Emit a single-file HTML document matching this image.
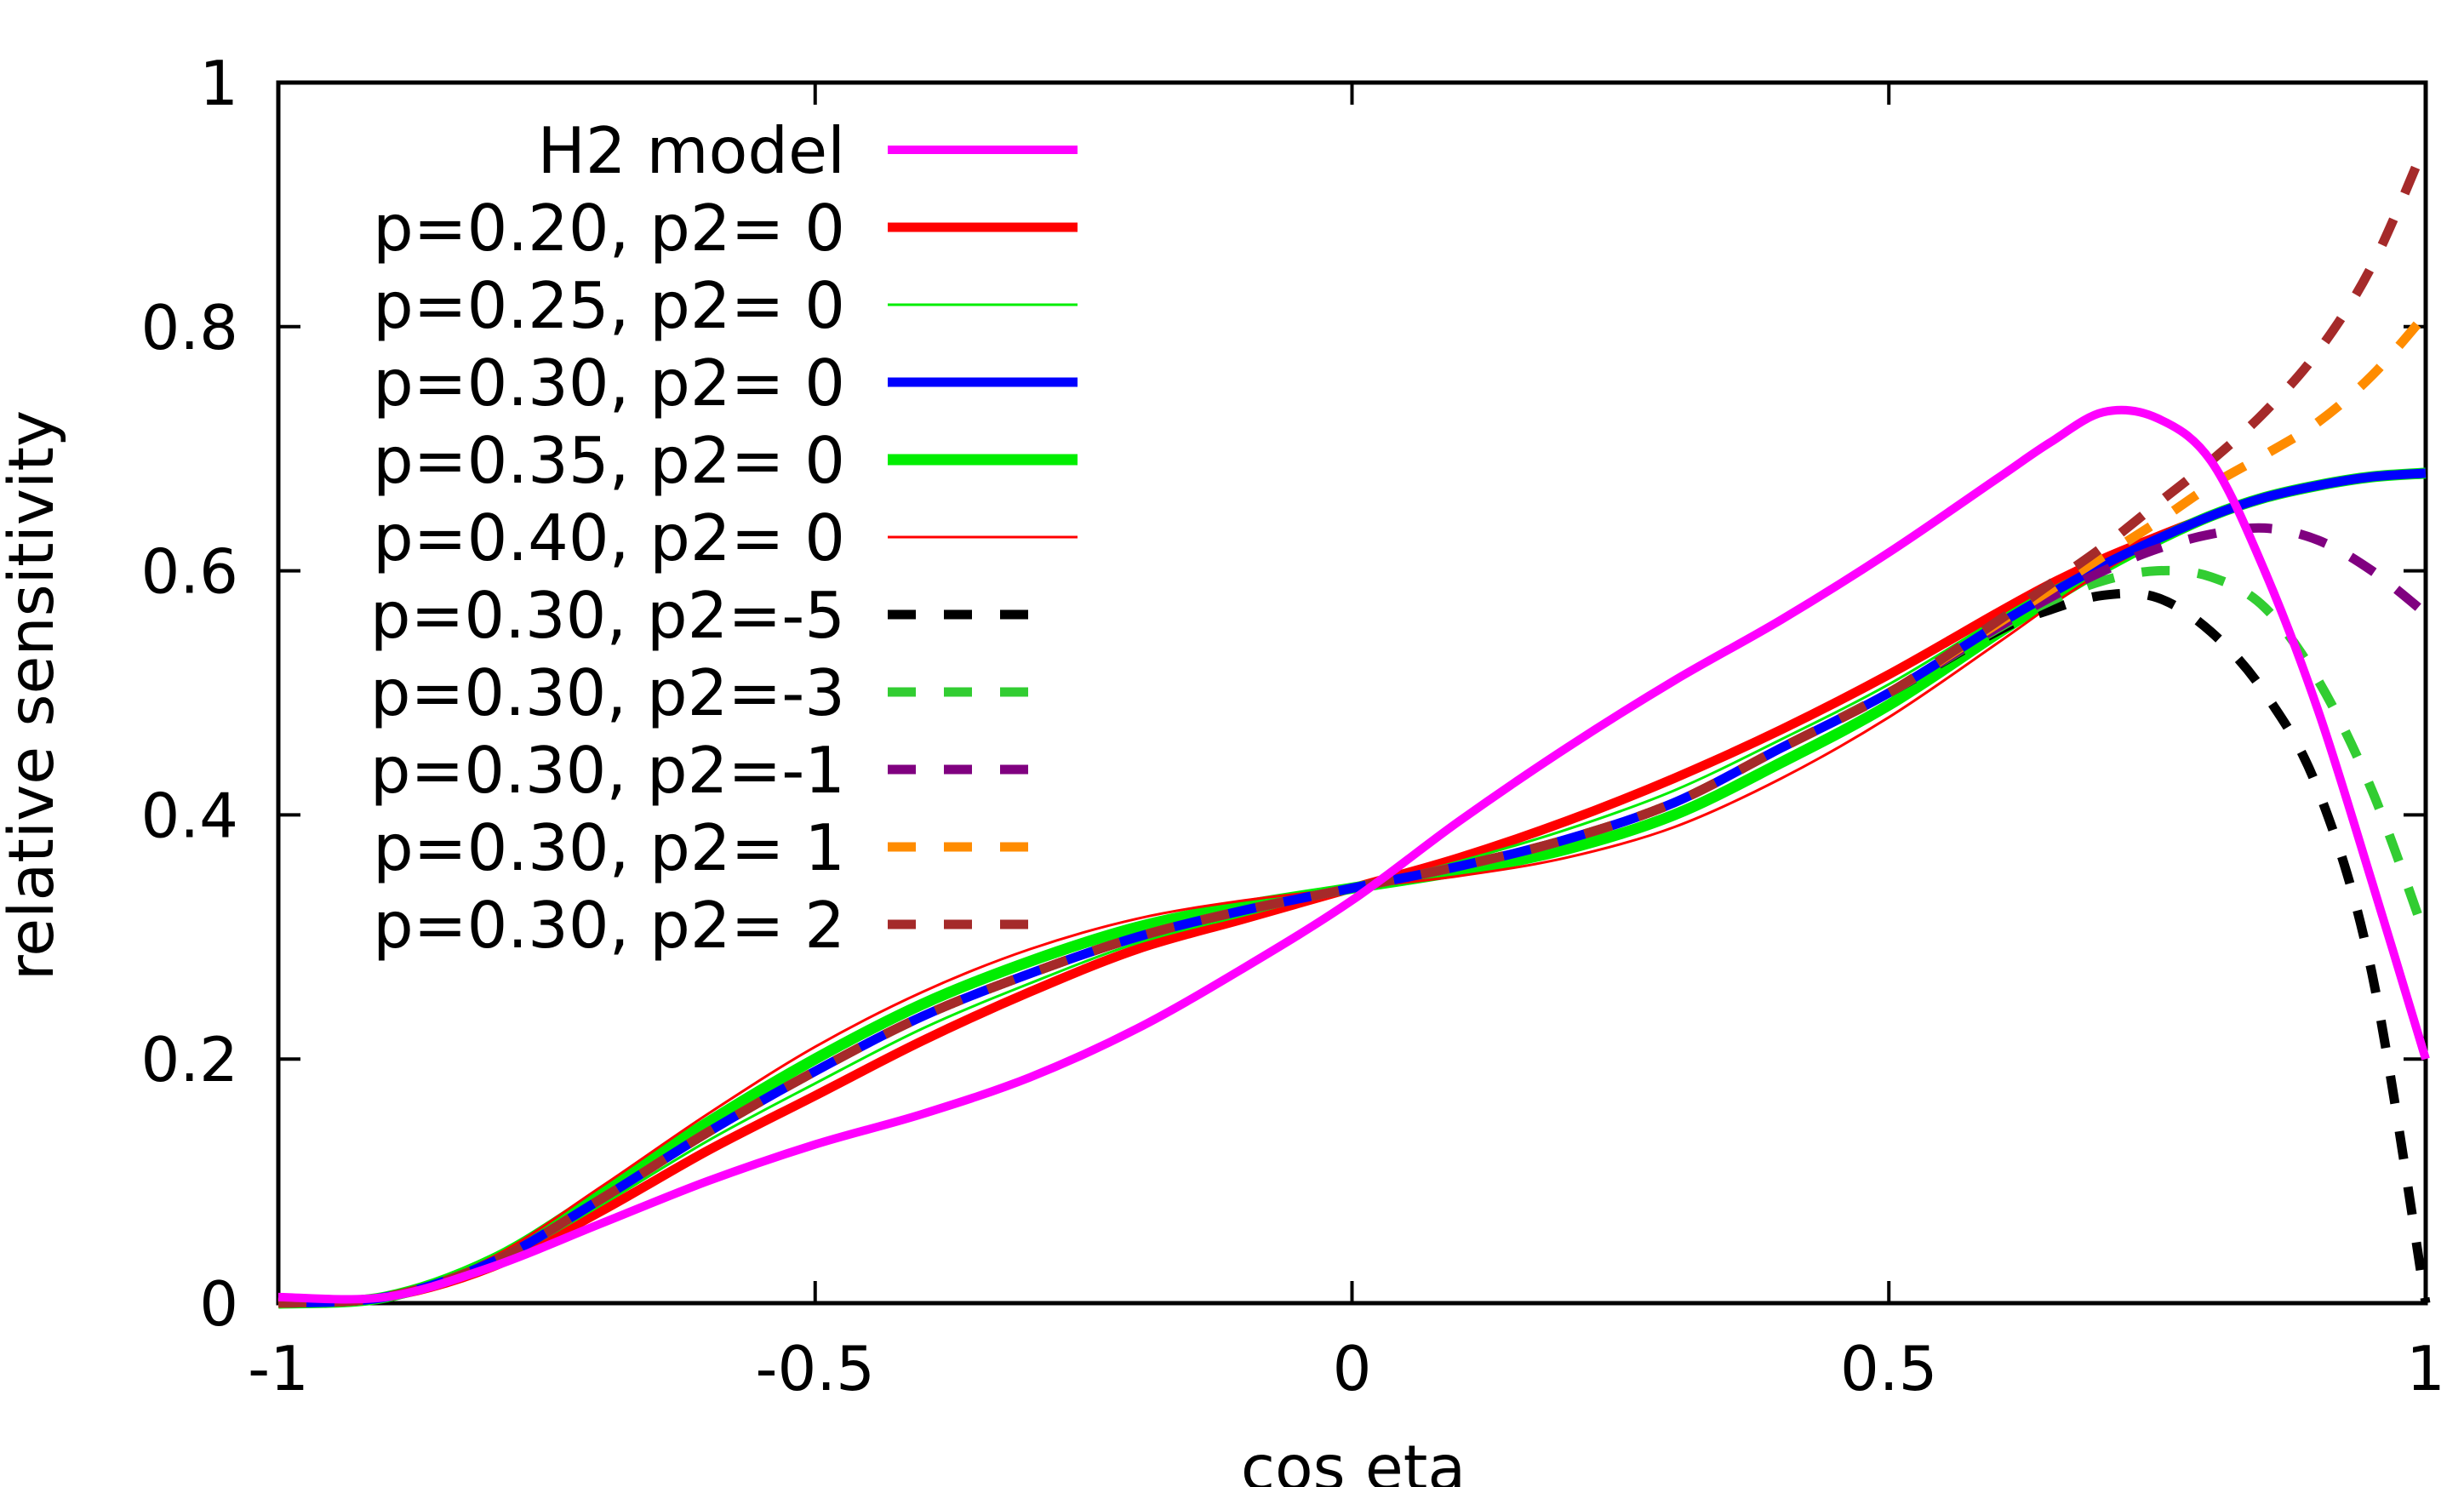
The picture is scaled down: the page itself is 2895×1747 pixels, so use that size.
<!DOCTYPE html>
<html><head><meta charset="utf-8"><style>
html,body{margin:0;padding:0;background:#fff;}
svg{display:block;font-family:"DejaVu Sans","Liberation Sans",sans-serif;}
</style></head><body>
<svg id="chart" width="2895" height="1747" viewBox="0 0 2895 1747" xmlns="http://www.w3.org/2000/svg">
<g id="grid"></g>
<g id="series"></g>
<g id="legend"></g>
<text x="0" y="0" transform="translate(62,817) rotate(-90)" text-anchor="middle" font-size="73">relative sensitivity</text>
<text x="1590" y="1750" text-anchor="middle" font-size="73">cos eta</text>
</svg>
<script>
const xTicks=[-1,-0.5,0,0.5,1];
const xTickLabels=["-1","-0.5","0","0.5","1"];
const yTicks=[0,0.2,0.4,0.6,0.8,1];
const yTickLabels=["0","0.2","0.4","0.6","0.8","1"];
const xs=[-1,-0.9,-0.8,-0.7,-0.6,-0.5,-0.4,-0.3,-0.2,-0.1,0,0.1,0.2,0.3,0.4,0.5,0.6,0.65,0.7,0.75,0.8,0.85,0.9,0.95,1];
const h2=[0.005,0.005,0.03,0.065,0.1,0.13,0.155,0.185,0.225,0.275,0.33,0.395,0.455,0.51,0.56,0.615,0.675,0.705,0.73,0.725,0.69,0.6,0.485,0.345,0.2];
const p20=[0,0.005,0.03,0.075,0.125,0.17,0.215,0.255,0.29,0.315,0.34,0.365,0.395,0.43,0.47,0.515,0.565,0.589,0.61,0.628,0.645,0.66,0.67,0.677,0.68];
const p25=[0,0.005,0.032,0.08,0.133,0.18,0.225,0.262,0.295,0.318,0.34,0.362,0.388,0.42,0.462,0.507,0.56,0.585,0.607,0.627,0.645,0.66,0.67,0.677,0.68];
const p30=[0,0.005,0.034,0.085,0.14,0.19,0.235,0.27,0.3,0.322,0.34,0.358,0.38,0.41,0.455,0.5,0.555,0.581,0.605,0.626,0.645,0.66,0.67,0.677,0.68];
const p35=[0,0.005,0.036,0.09,0.148,0.2,0.245,0.28,0.308,0.326,0.34,0.354,0.372,0.4,0.443,0.49,0.548,0.576,0.602,0.625,0.645,0.66,0.67,0.677,0.68];
const p40=[0,0.005,0.038,0.095,0.155,0.21,0.255,0.29,0.315,0.33,0.34,0.35,0.365,0.39,0.43,0.48,0.54,0.571,0.6,0.624,0.645,0.66,0.67,0.677,0.68];
const m5=[0,0.005,0.034,0.085,0.14,0.19,0.235,0.27,0.3,0.322,0.34,0.358,0.38,0.41,0.455,0.5,0.55,0.568,0.58,0.578,0.55,0.5,0.42,0.27,0.0];
const m3=[0,0.005,0.034,0.085,0.14,0.19,0.235,0.27,0.3,0.322,0.34,0.358,0.38,0.41,0.455,0.5,0.552,0.575,0.592,0.6,0.595,0.57,0.51,0.42,0.3];
const m1=[0,0.005,0.034,0.085,0.14,0.19,0.235,0.27,0.3,0.322,0.34,0.358,0.38,0.41,0.455,0.5,0.553,0.578,0.6,0.618,0.63,0.635,0.625,0.6,0.565];
const q1=[0,0.005,0.034,0.085,0.14,0.19,0.235,0.27,0.3,0.322,0.34,0.358,0.38,0.41,0.455,0.5,0.556,0.584,0.612,0.64,0.67,0.695,0.722,0.76,0.81];
const q2=[0,0.005,0.034,0.085,0.14,0.19,0.235,0.27,0.3,0.322,0.34,0.358,0.38,0.41,0.455,0.5,0.558,0.589,0.62,0.655,0.69,0.73,0.78,0.85,0.95];
const seriesLabels=["H2 model","p=0.20, p2= 0","p=0.25, p2= 0","p=0.30, p2= 0","p=0.35, p2= 0","p=0.40, p2= 0","p=0.30, p2=-5","p=0.30, p2=-3","p=0.30, p2=-1","p=0.30, p2= 1","p=0.30, p2= 2"];
const seriesData=[h2,p20,p25,p30,p35,p40,m5,m3,m1,q1,q2];
const colors=["#ff00ff","#ff0000","#00ee00","#0000ff","#00ee00","#ff0000","#000000","#32cd32","#800080","#ff8c00","#a52a2a"];
const widths=[10,11,3,11,13,3,11,11,11,11,11];
const dashed=[0,0,0,0,0,0,1,1,1,1,1];
const names=["h2-model","p020","p025","p030","p035","p040","p030-p2-m5","p030-p2-m3","p030-p2-m1","p030-p2-1","p030-p2-2"];
const L=327,R=2850,T=97,B=1531;
const NS="http://www.w3.org/2000/svg";
const sx=v=>L+(v+1)/2*(R-L);
const sy=v=>B-v*(B-T);
function mk(tag,attrs,parent){const e=document.createElementNS(NS,tag);for(const k in attrs)e.setAttribute(k,attrs[k]);parent.appendChild(e);return e;}
const grid=document.getElementById('grid');
xTicks.forEach((t,i)=>{
  const x=sx(t);
  const a=mk('line',{x1:x,y1:B,x2:x,y2:B-26,stroke:'#000','stroke-width':4},grid);
  
  const b=mk('line',{x1:x,y1:T,x2:x,y2:T+26,stroke:'#000','stroke-width':4},grid);
  
  const tx=mk('text',{x:x,y:1633,'text-anchor':'middle','font-size':72},grid);tx.textContent=xTickLabels[i];
  
});
yTicks.forEach((t,i)=>{
  const y=sy(t);
  const a=mk('line',{x1:L,y1:y,x2:L+26,y2:y,stroke:'#000','stroke-width':4},grid);
  
  const b=mk('line',{x1:R,y1:y,x2:R-26,y2:y,stroke:'#000','stroke-width':4},grid);
  
  const tx=mk('text',{x:280,y:y+26,'text-anchor':'end','font-size':72},grid);tx.textContent=yTickLabels[i];
  
});
const frame=mk('rect',{x:L,y:T,width:R-L,height:B-T,fill:'none',stroke:'#000','stroke-width':5},grid);

function pathFor(vals){
  const pts=xs.map((x,i)=>[sx(x),sy(vals[i])]);
  let d='M'+pts[0][0]+','+pts[0][1];
  for(let i=0;i<pts.length-1;i++){
    const p0=pts[Math.max(0,i-1)],p1=pts[i],p2=pts[i+1],p3=pts[Math.min(pts.length-1,i+2)];
    const c1=[p1[0]+(p2[0]-p0[0])/6,p1[1]+(p2[1]-p0[1])/6];
    const c2=[p2[0]-(p3[0]-p1[0])/6,p2[1]-(p3[1]-p1[1])/6];
    d+=' C'+c1[0]+','+c1[1]+' '+c2[0]+','+c2[1]+' '+p2[0]+','+p2[1];
  }
  return d;
}
const sg=document.getElementById('series');
const order=[1,2,4,5,3,6,7,8,9,10,0];
order.forEach(i=>{
  const attrs={d:pathFor(seriesData[i]),fill:'none',stroke:colors[i],'stroke-width':widths[i],'stroke-linejoin':'round'};
  if(dashed[i])attrs['stroke-dasharray']='33,33';
  const p=mk('path',attrs,sg);
  
  
});
const lg=document.getElementById('legend');
seriesLabels.forEach((lab,i)=>{
  const y=176+i*91;
  const t=mk('text',{x:993,y:y+27,'text-anchor':'end','font-size':75},lg);t.textContent=lab;
  
  const attrs={x1:1043,y1:y,x2:dashed[i]?1240:1266,y2:y,stroke:colors[i],'stroke-width':widths[i]};
  if(dashed[i])attrs['stroke-dasharray']='33,33';
  const l=mk('line',attrs,lg);
  
});
</script>
</body></html>
